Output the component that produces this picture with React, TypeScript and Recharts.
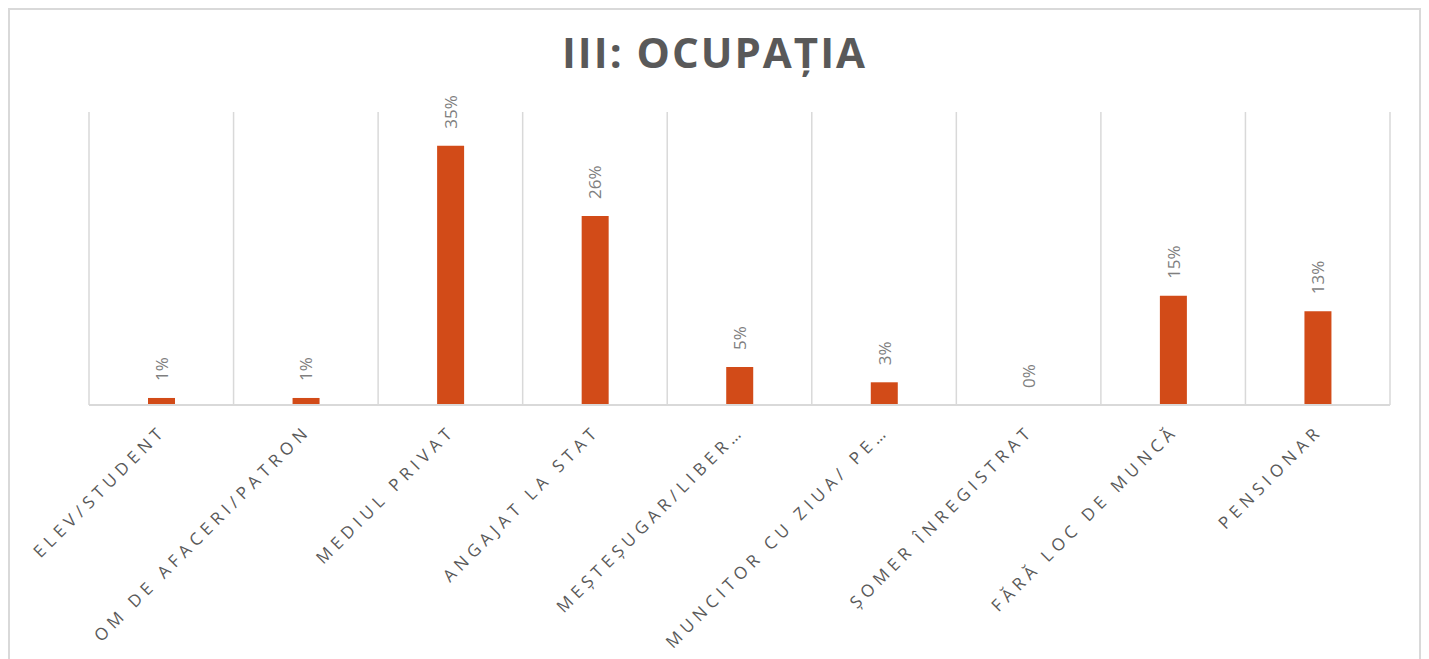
import { ComposedChart, Bar, Line, XAxis, YAxis, CartesianGrid, LabelList } from 'recharts'

const categories = [
  'ELEV/STUDENT',
  'OM DE AFACERI/PATRON',
  'MEDIUL PRIVAT',
  'ANGAJAT LA STAT',
  'MEȘTEȘUGAR/LIBER…',
  'MUNCITOR CU ZIUA/ PE…',
  'ȘOMER ÎNREGISTRAT',
  'FĂRĂ LOC DE MUNCĂ',
  'PENSIONAR',
]

const shares = [0.96, 0.96, 35.4, 25.8, 5.2, 3.1, 0, 14.9, 12.8]

const yDomain: [number, number] = [0, 40]

const title = 'III: OCUPAȚIA'

const data = categories.map((name, i) => ({ name, value: shares[i] }))

const FONT = '"Open Sans", sans-serif'
const BAR = '#d24b18'
const GRID = '#d9d9d9'

function CategoryTick({ x, y, payload }: { x: number; y: number; payload: { value: string } }) {
  return (
    <g transform={`translate(${x + 6},${y + 27})`}>
      <text
        transform="rotate(-45)"
        textAnchor="end"
        fill="#595959"
        fontSize={17}
        letterSpacing={5}
        fontFamily={FONT}
      >
        {payload.value}
      </text>
    </g>
  )
}

// labels hang off an invisible line so the 0% point still gets one
function ValueLabel(props: any) {
  const { x, y, value } = props
  const cx = x
  const cy = y - 17
  return (
    <text
      x={cx}
      y={cy}
      transform={`rotate(-90, ${cx}, ${cy})`}
      textAnchor="start"
      dominantBaseline="central"
      fill="#7f7f7f"
      fontSize={17}
      fontFamily={FONT}
    >
      {`${Math.round(value)}%`}
    </text>
  )
}

export default function App() {
  return (
    <div
      style={{
        position: 'relative',
        width: 1413,
        height: 660,
        border: `2px solid ${GRID}`,
        boxSizing: 'border-box',
        background: '#fff',
      }}
    >
      <div
        style={{
          position: 'absolute',
          top: 21,
          left: 0,
          width: '100%',
          textAlign: 'center',
          fontFamily: FONT,
          fontWeight: 700,
          fontSize: 42,
          lineHeight: '42px',
          letterSpacing: 2,
          color: '#595959',
        }}
      >
        {title}
      </div>
      <ComposedChart
        width={1409}
        height={656}
        data={data}
        margin={{ top: 102, right: 29, left: 79, bottom: 61 }}
      >
        <CartesianGrid
          horizontal={false}
          stroke={GRID}
          strokeWidth={1.5}
          verticalCoordinatesGenerator={({ offset }: any) =>
            categories
              .map((_, i) => offset.left + (i * offset.width) / categories.length)
              .concat(offset.left + offset.width)
          }
        />
        <XAxis
          dataKey="name"
          interval={0}
          height={200}
          tickLine={false}
          tickSize={0}
          tickMargin={0}
          axisLine={{ stroke: GRID, strokeWidth: 2 }}
          tick={CategoryTick as any}
        />
        <YAxis hide domain={yDomain} />
        <Bar dataKey="value" fill={BAR} barSize={27} isAnimationActive={false} />
        <Line
          dataKey="value"
          stroke="none"
          dot={false}
          activeDot={false}
          legendType="none"
          isAnimationActive={false}
        >
          <LabelList dataKey="value" content={ValueLabel} />
        </Line>
      </ComposedChart>
    </div>
  )
}
